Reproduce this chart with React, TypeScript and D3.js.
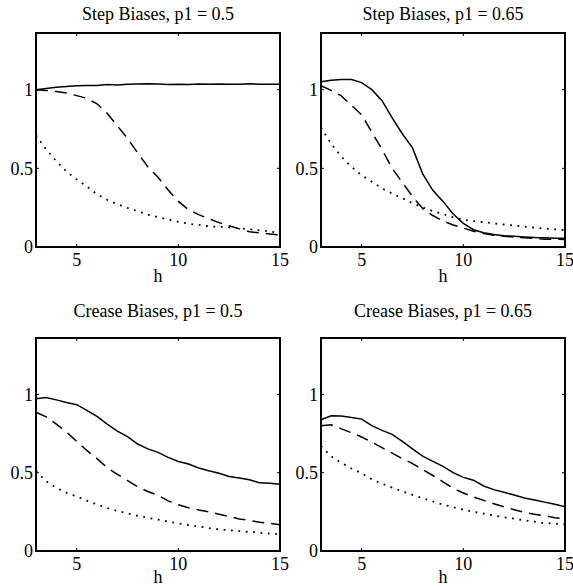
import React from "react";
import * as d3 from "d3";

// h values along the x axis
const hValues = [3, 3.5, 4, 4.5, 5, 5.5, 6, 6.5, 7, 7.5, 8, 8.5, 9, 9.5, 10, 10.5, 11, 11.5, 12, 12.5, 13, 13.5, 14, 14.5, 15];
const xTicks = [5, 10, 15];
const yTicks = [0, 0.5, 1];
const yTickLabels = ["0", "0.5", "1"];

const panelTitles = [
  "Step Biases, p1 = 0.5",
  "Step Biases, p1 = 0.65",
  "Crease Biases, p1 = 0.5",
  "Crease Biases, p1 = 0.65",
];

// step, p1 = 0.5
const stepA_solid = [1.0, 1.008, 1.015, 1.02, 1.024, 1.026, 1.027, 1.032, 1.03, 1.035, 1.036, 1.037, 1.036, 1.033, 1.035, 1.032, 1.036, 1.035, 1.036, 1.034, 1.035, 1.037, 1.035, 1.035, 1.034];
const stepA_dashed = [1.0, 0.995, 0.988, 0.978, 0.962, 0.945, 0.91, 0.85, 0.77, 0.69, 0.598, 0.51, 0.443, 0.362, 0.29, 0.237, 0.206, 0.18, 0.155, 0.135, 0.115, 0.097, 0.09, 0.083, 0.076];
const stepA_dotted = [0.71, 0.62, 0.545, 0.48, 0.43, 0.385, 0.335, 0.3, 0.272, 0.248, 0.228, 0.205, 0.19, 0.174, 0.16, 0.148, 0.14, 0.131, 0.128, 0.125, 0.12, 0.112, 0.106, 0.099, 0.088];

// step, p1 = 0.65
const stepB_solid = [1.05, 1.06, 1.065, 1.065, 1.045, 1.0, 0.93, 0.82, 0.72, 0.63, 0.465, 0.36, 0.29, 0.21, 0.15, 0.11, 0.09, 0.08, 0.072, 0.068, 0.064, 0.06, 0.058, 0.056, 0.055];
const stepB_dashed = [1.025, 0.995, 0.96, 0.9, 0.84, 0.73, 0.62, 0.5, 0.41, 0.32, 0.245, 0.2, 0.165, 0.14, 0.12, 0.1, 0.085, 0.075, 0.068, 0.063, 0.058, 0.054, 0.05, 0.049, 0.048];
const stepB_dotted = [0.76, 0.655, 0.575, 0.51, 0.455, 0.415, 0.372, 0.34, 0.31, 0.278, 0.252, 0.228, 0.21, 0.188, 0.173, 0.165, 0.158, 0.15, 0.143, 0.137, 0.13, 0.123, 0.117, 0.112, 0.108];

// crease, p1 = 0.5
const creaseA_solid = [0.972, 0.98, 0.965, 0.948, 0.934, 0.898, 0.86, 0.81, 0.765, 0.73, 0.683, 0.652, 0.63, 0.598, 0.572, 0.555, 0.53, 0.512, 0.496, 0.476, 0.466, 0.455, 0.435, 0.432, 0.426];
const creaseA_dashed = [0.886, 0.857, 0.81, 0.76, 0.7, 0.642, 0.59, 0.532, 0.49, 0.45, 0.41, 0.38, 0.355, 0.32, 0.295, 0.276, 0.262, 0.25, 0.235, 0.22, 0.205, 0.195, 0.184, 0.176, 0.168];
const creaseA_dotted = [0.51, 0.445, 0.403, 0.372, 0.348, 0.322, 0.297, 0.275, 0.256, 0.24, 0.225, 0.212, 0.2, 0.188, 0.176, 0.166, 0.157, 0.146, 0.138, 0.132, 0.127, 0.122, 0.116, 0.111, 0.107];

// crease, p1 = 0.65
const creaseB_solid = [0.838, 0.864, 0.862, 0.852, 0.842, 0.8, 0.77, 0.745, 0.7, 0.652, 0.606, 0.572, 0.54, 0.5, 0.47, 0.452, 0.415, 0.392, 0.375, 0.357, 0.338, 0.326, 0.312, 0.298, 0.282];
const creaseB_dashed = [0.8, 0.806, 0.78, 0.755, 0.728, 0.695, 0.66, 0.625, 0.59, 0.558, 0.52, 0.482, 0.442, 0.4, 0.37, 0.345, 0.323, 0.302, 0.282, 0.264, 0.247, 0.235, 0.225, 0.213, 0.205];
const creaseB_dotted = [0.67, 0.605, 0.563, 0.527, 0.497, 0.457, 0.43, 0.405, 0.381, 0.359, 0.337, 0.316, 0.296, 0.28, 0.264, 0.25, 0.239, 0.227, 0.216, 0.206, 0.196, 0.187, 0.179, 0.175, 0.17];

const panelSeries = [
  [stepA_solid, stepA_dashed, stepA_dotted],
  [stepB_solid, stepB_dashed, stepB_dotted],
  [creaseA_solid, creaseA_dashed, creaseA_dotted],
  [creaseB_solid, creaseB_dashed, creaseB_dotted],
];

const W = 573;
const H = 587;
const FONT = "'Liberation Serif', 'Times New Roman', serif";
const dashes = [null, "12,7", "1.8,5.6"];
const widths = [1.5, 1.5, 1.8];

// plot boxes: left, top, width, height
const boxes = [
  { x: 36, y: 33, w: 244, h: 214, titleY: 20, labelOff: 35 },
  { x: 321, y: 33, w: 244, h: 214, titleY: 20, labelOff: 35 },
  { x: 36, y: 338, w: 244, h: 213, titleY: 317, labelOff: 32 },
  { x: 321, y: 338, w: 244, h: 213, titleY: 317, labelOff: 32 },
];

function Panel({ idx }) {
  const b = boxes[idx];
  const x = d3.scaleLinear().domain([3, 15]).range([0, b.w]);
  const y = d3.scaleLinear().domain([0, 1.36]).range([b.h, 0]);
  const line = d3.line<number>()
    .x((d, i) => x(hValues[i]))
    .y((d) => y(d));
  const tl = 3;

  return (
    <g transform={`translate(${b.x},${b.y})`}>
      {panelSeries[idx].map((s, i) => (
        <path
          key={i}
          d={line(s)}
          fill="none"
          stroke="#000"
          strokeWidth={widths[i]}
          strokeDasharray={dashes[i] || undefined}
        />
      ))}
      {xTicks.map((t) => (
        <g key={"x" + t}>
          <line x1={x(t)} x2={x(t)} y1={b.h} y2={b.h - tl} stroke="#000" />
          <line x1={x(t)} x2={x(t)} y1={0} y2={tl} stroke="#000" />
          <text x={x(t)} y={b.h + 19} textAnchor="middle" fontSize={18} fontFamily={FONT}>{t}</text>
        </g>
      ))}
      {yTicks.map((t, i) => (
        <g key={"y" + t}>
          <line x1={0} x2={tl} y1={y(t)} y2={y(t)} stroke="#000" />
          <line x1={b.w} x2={b.w - tl} y1={y(t)} y2={y(t)} stroke="#000" />
          <text x={-3} y={y(t)} dy="0.35em" textAnchor="end" fontSize={18} fontFamily={FONT}>{yTickLabels[i]}</text>
        </g>
      ))}
      <rect x={0} y={0} width={b.w} height={b.h} fill="none" stroke="#000" strokeWidth={2} />
      <text x={b.w / 2} y={b.h + b.labelOff} textAnchor="middle" fontSize={18} fontFamily={FONT}>h</text>
      <text x={b.w / 2} y={b.titleY - b.y} textAnchor="middle" fontSize={18} fontFamily={FONT}>{panelTitles[idx]}</text>
    </g>
  );
}

export default function App() {
  return (
    <svg width={W} height={H} style={{ position: "absolute", left: 0, top: 0, background: "#fff" }}>
      <rect width={W} height={H} fill="#fff" />
      {boxes.map((b, i) => (
        <Panel key={i} idx={i} />
      ))}
    </svg>
  );
}
